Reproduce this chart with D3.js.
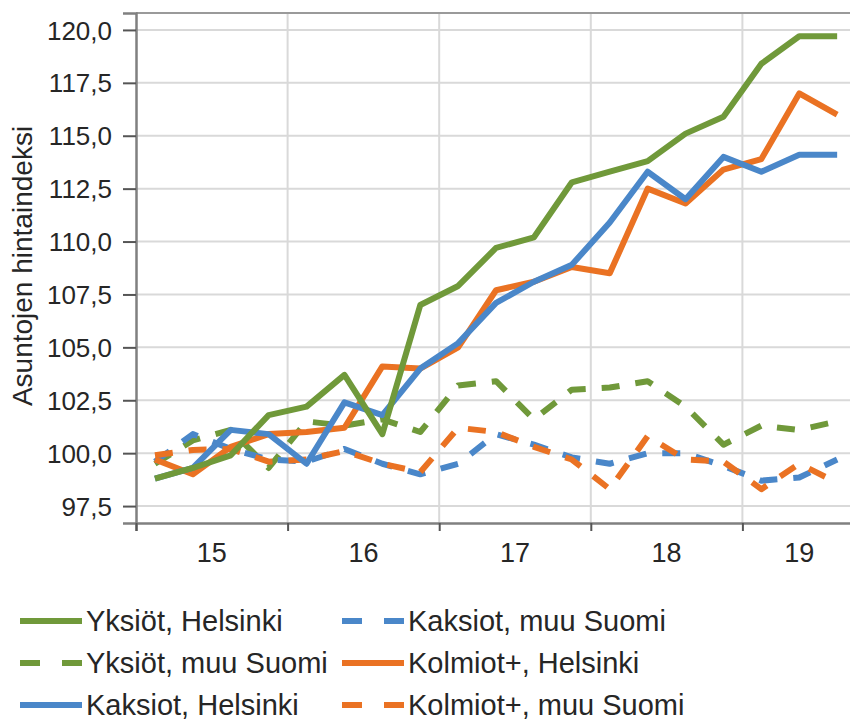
<!DOCTYPE html>
<html>
<head>
<meta charset="utf-8">
<script src="https://cdn.jsdelivr.net/npm/d3@7"></script>
<style>
  body { margin: 0; background: #fff; }
  text { font-family: "Liberation Sans", Arial, sans-serif; fill: #262626; }
</style>
</head>
<body>
<svg id="chart" width="850" height="722"></svg>
<script>
// quarters 2015Q1 .. 2019Q3
var quarters = ["15Q1","15Q2","15Q3","15Q4","16Q1","16Q2","16Q3","16Q4","17Q1","17Q2","17Q3","17Q4","18Q1","18Q2","18Q3","18Q4","19Q1","19Q2","19Q3"];
var yearLabels = ["15","16","17","18","19"];
var yTicks = [97.5, 100, 102.5, 105, 107.5, 110, 112.5, 115, 117.5, 120];

var yksiotHki   = [98.8, 99.3, 99.9, 101.8, 102.2, 103.7, 100.9, 107.0, 107.9, 109.7, 110.2, 112.8, 113.3, 113.8, 115.1, 115.9, 118.4, 119.7, 119.7];
var yksiotMuu   = [99.5, 100.6, 101.1, 99.3, 101.5, 101.3, 101.6, 101.0, 103.2, 103.4, 101.6, 103.0, 103.1, 103.4, 102.2, 100.4, 101.3, 101.1, 101.5];
var kaksiotHki  = [98.8, 99.3, 101.1, 100.9, 99.5, 102.4, 101.8, 104.0, 105.2, 107.1, 108.1, 108.9, 110.9, 113.3, 112.0, 114.0, 113.3, 114.1, 114.1];
var kaksiotMuu  = [99.6, 100.9, 100.2, 99.7, 99.6, 100.2, 99.5, 99.0, 99.5, 100.9, 100.4, 99.8, 99.5, 100.0, 100.0, 99.4, 98.7, 98.85, 99.7];
var kolmiotHki  = [99.7, 99.0, 100.3, 100.9, 101.0, 101.2, 104.1, 104.0, 105.0, 107.7, 108.1, 108.8, 108.5, 112.5, 111.8, 113.4, 113.9, 117.0, 116.0];
var kolmiotMuu  = [99.9, 100.15, 100.2, 99.6, 99.7, 100.1, 99.5, 99.1, 101.2, 101.0, 100.3, 99.7, 98.3, 100.8, 99.7, 99.6, 98.3, 99.5, 98.6];

var green = "#70993a", blue = "#4a87c9", orange = "#ea7223";

var series = [
  {name: "Yksiöt, Helsinki",     values: yksiotHki,  color: green,  dash: false},
  {name: "Yksiöt, muu Suomi",    values: yksiotMuu,  color: green,  dash: true},
  {name: "Kaksiot, Helsinki",    values: kaksiotHki, color: blue,   dash: false},
  {name: "Kaksiot, muu Suomi",   values: kaksiotMuu, color: blue,   dash: true},
  {name: "Kolmiot+, Helsinki",   values: kolmiotHki, color: orange, dash: false},
  {name: "Kolmiot+, muu Suomi",  values: kolmiotMuu, color: orange, dash: true}
];

function drawChart(){
  var svg = d3.select("#chart");
  var left = 136, plotTop = 13, bottom = 523, right = 850, qw = 37.9;

  // x: quarter index (0..19), points sit in the middle of each quarter
  var x = d3.scaleLinear().domain([0, 19]).range([left, left + 19 * qw]);
  var y = d3.scaleLinear().domain([96.7, 120.8]).range([bottom, plotTop]);

  // grid
  var g = svg.append("g");
  g.selectAll(".hgrid").data(yTicks).enter().append("line")
    .attr("x1", left).attr("x2", right)
    .attr("y1", function(d){ return y(d); }).attr("y2", function(d){ return y(d); })
    .attr("stroke", "#d9d9d9").attr("stroke-width", 2);
  var yearIdx = [4, 8, 12, 16];
  g.selectAll(".vgrid").data(yearIdx).enter().append("line")
    .attr("x1", function(d){ return x(d); }).attr("x2", function(d){ return x(d); })
    .attr("y1", plotTop).attr("y2", bottom)
    .attr("stroke", "#d9d9d9").attr("stroke-width", 2);
  g.append("line").attr("x1", left).attr("x2", right).attr("y1", plotTop).attr("y2", plotTop)
    .attr("stroke", "#9a9a9a").attr("stroke-width", 2);

  // y axis
  var yAxis = d3.axisLeft(y).tickValues(yTicks).tickSize(13).tickPadding(11)
    .tickFormat(function(d){ return d3.format(".1f")(d).replace(".", ","); });
  var ya = svg.append("g").attr("transform", "translate(" + left + ",0)").call(yAxis);
  ya.select(".domain").attr("stroke", "#808080").attr("stroke-width", 2.5);
  ya.selectAll(".tick line").attr("stroke", "#555").attr("stroke-width", 2);
  ya.selectAll(".tick text").style("font-size", "26px").attr("dy", "0.35em");

  // x axis
  var xAxis = d3.axisBottom(x).tickValues([0, 4, 8, 12, 16]).tickSize(8).tickFormat("");
  var xa = svg.append("g").attr("transform", "translate(0," + bottom + ")").call(xAxis);
  xa.select(".domain").attr("stroke", "#808080").attr("stroke-width", 2.5);
  xa.selectAll(".tick line").attr("stroke", "#555").attr("stroke-width", 2);
  var labelPos = [2, 6, 10, 14, 17.5];
  svg.selectAll(".xlab").data(yearLabels).enter().append("text")
    .attr("x", function(d, i){ return x(labelPos[i]); })
    .attr("y", 562)
    .attr("text-anchor", "middle")
    .style("font-size", "27px")
    .text(function(d){ return d; });

  // y title
  svg.append("text")
    .attr("transform", "translate(32,266) rotate(-90)")
    .attr("text-anchor", "middle")
    .style("font-size", "28px")
    .text("Asuntojen hintaindeksi");

  // lines
  var line = d3.line()
    .x(function(d, i){ return x(i + 0.5); })
    .y(function(d){ return y(d); });

  var drawOrder = [1, 3, 5, 4, 2, 0];
  var lines = svg.append("g");
  drawOrder.forEach(function(k){
    var s = series[k];
    lines.append("path")
      .datum(s.values)
      .attr("d", line)
      .attr("fill", "none")
      .attr("stroke", s.color)
      .attr("stroke-width", 6)
      .attr("stroke-linejoin", "round")
      .attr("stroke-dasharray", s.dash ? "18,16" : null);
  });

  // legend, filled column by column
  var legend = svg.append("g");
  series.forEach(function(s, i){
    var col = Math.floor(i / 3), row = i % 3;
    var lx = col === 0 ? 20 : 342;
    var ly = 621 + row * 42;
    legend.append("line")
      .attr("x1", lx).attr("x2", lx + 62)
      .attr("y1", ly).attr("y2", ly)
      .attr("stroke", s.color).attr("stroke-width", 6)
      .attr("stroke-dasharray", s.dash ? "20,22" : null);
    legend.append("text")
      .attr("x", lx + 66).attr("y", ly)
      .attr("dy", "0.35em")
      .style("font-size", "29px")
      .text(s.name);
  });
}
drawChart();
</script>
</body>
</html>
